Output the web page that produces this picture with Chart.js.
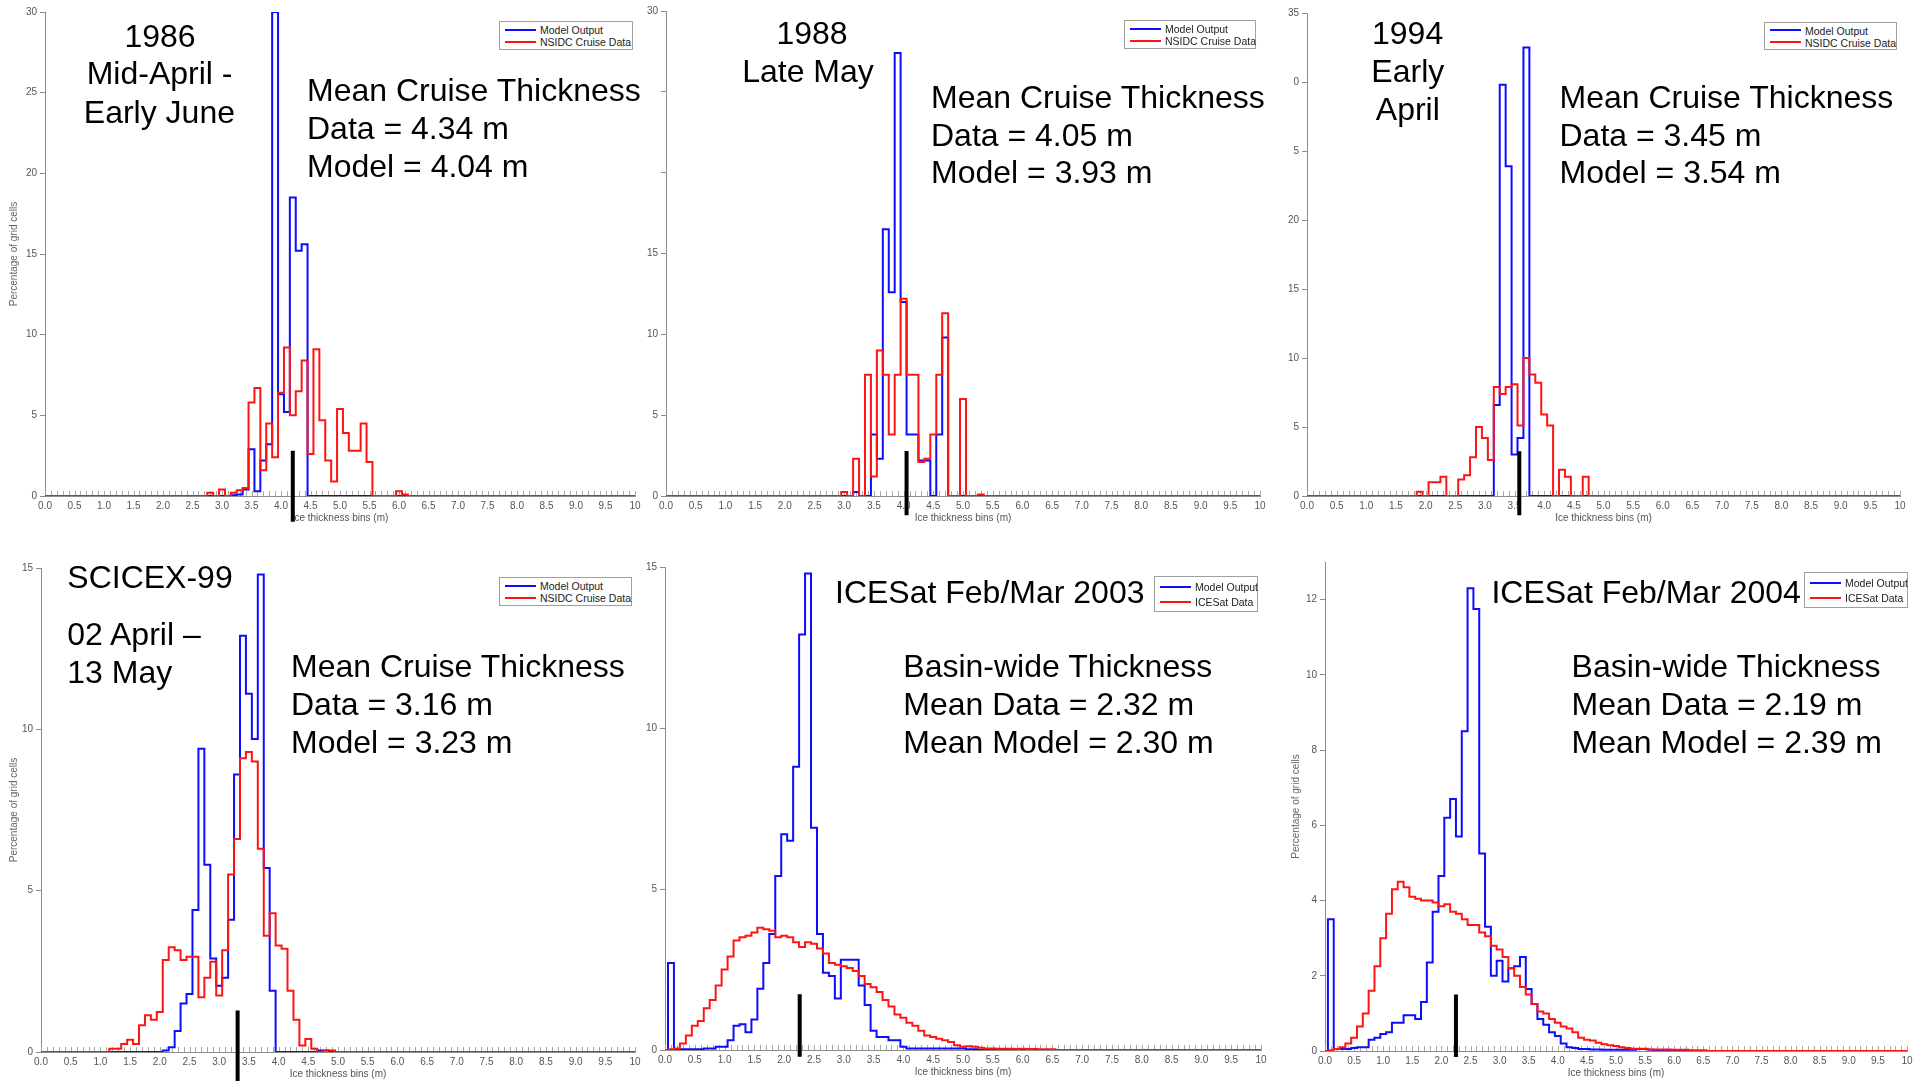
<!DOCTYPE html>
<html>
<head>
<meta charset="utf-8">
<title>Ice thickness histograms</title>
<script src="https://cdn.jsdelivr.net/npm/chart.js@4.4.1/dist/chart.umd.min.js"></script>
<style>
  html, body { margin: 0; padding: 0; background: #fff; }
  body { width: 1915px; height: 1081px; position: relative; overflow: hidden;
         font-family: "Liberation Sans", Arial, sans-serif; }
  .panel { position: absolute; }
  .note { position: absolute; font-size: 32px; line-height: 32px; color: #000; white-space: nowrap; }
  .legend { position: absolute; border: 1px solid #a0a0a0; background: #fff; box-sizing: border-box; }
  .swatch { position: absolute; height: 2px; }
  .ltext { position: absolute; font-size: 10.5px; line-height: 12px; color: #222; white-space: nowrap; }
</style>
</head>
<body>
<script>
// --- dados (percentagem de celulas por classe de 0.1 m) ---
const xTickLabels = ['0.0','0.5','1.0','1.5','2.0','2.5','3.0','3.5','4.0','4.5','5.0',
                     '5.5','6.0','6.5','7.0','7.5','8.0','8.5','9.0','9.5','10'];

// 1986
const model1986Start = 3.2;
const model1986 = [0.05, 0.1, 0.4, 2.9, 0.3, 2.2, 3.2, 30, 6.3, 5.2, 18.5, 15.2, 15.6];
const nsidc1986Start = 2.8;
const nsidc1986 = [0.2, 0, 0.4, 0, 0.2, 0.35, 0.5, 5.8, 6.7, 1.6, 4.5, 2.4, 6.4, 9.2, 5.0, 6.5, 8.4,
                   2.6, 9.1, 4.7, 2.2, 0.9, 5.4, 3.9, 2.8, 2.8, 4.5, 2.1, 0, 0, 0, 0, 0.3, 0.1];
const yTicks1986 = ['0', '5', '10', '15', '20', '25', '30'];

// 1988
const model1988Start = 3.2;
const model1988 = [0.25, 0, 0, 3.8, 2.3, 16.5, 12.6, 27.4, 12.0, 3.8, 3.8, 2.2, 2.2, 0, 3.8, 9.8];
const nsidc1988Start = 3.0;
const nsidc1988 = [0.25, 0, 2.3, 0, 7.5, 1.2, 9.0, 7.5, 3.8, 7.5, 12.2, 7.5, 7.5, 2.1, 2.3, 3.8,
                   7.5, 11.3, 0, 0, 6.0, 0, 0, 0.1];
const yTicks1988 = ['0', '5', '10', '15', '', '', '30'];

// 1994
const model1994Start = 3.2;
const model1994 = [6.6, 29.8, 23.9, 3.0, 4.2, 32.5];
const nsidc1994Start = 1.9;
const nsidc1994 = [0.3, 0, 1.0, 1.0, 1.4, 0, 0, 1.2, 1.5, 2.8, 5.0, 4.2, 2.6, 7.9, 7.4, 7.9, 8.1,
                   5.1, 10.0, 8.8, 8.2, 5.9, 5.1, 0, 1.9, 1.4, 0, 0, 1.4];
const yTicks1994 = ['0', '5', '10', '15', '20', '5', '0', '35'];

// SCICEX-99
const model1999Start = 2.1;
const model1999 = [0.05, 0.15, 0.65, 1.5, 1.8, 4.4, 9.4, 5.8, 2.9, 2.05, 2.3, 4.1, 8.6, 12.9, 11.1,
                   9.7, 14.8, 5.7, 1.9, 0, 0, 0, 0, 0, 0, 0, 0.05, 0.05];
const nsidc1999Start = 1.2;
const nsidc1999 = [0.1, 0.1, 0.25, 0.38, 0.25, 0.83, 1.14, 1.0, 1.24,
                   2.85, 3.25, 3.15, 2.85, 2.95, 2.95, 1.7, 2.3, 2.8, 1.75,
                   3.15, 5.5, 6.6, 9.1, 9.3, 9.0, 6.3, 3.6, 4.3, 3.3,
                   3.2, 1.9, 1.0, 0.2, 0.4, 0.1, 0, 0.05, 0.05];
const yTicks1999 = ['0', '5', '10', '15'];

// ICESat 2003
const model2003Start = 0.1;
const model2003 = [2.7, 0.02, 0.02, 0.02, 0.02, 0.02, 0.05, 0.05, 0.1, 0.1,
                   0.3, 0.75, 0.8, 0.55, 0.95, 1.9, 2.7, 3.6, 5.4, 6.7,
                   6.5, 8.8, 12.9, 14.8, 6.9, 3.6, 2.4, 2.3, 1.6, 2.8,
                   2.8, 2.8, 2.0, 1.4, 0.6, 0.4, 0.4, 0.3, 0.3, 0.1,
                   0.05, 0.05, 0.05, 0.05, 0.05, 0.05, 0.05, 0.05, 0.05, 0.05, 0.02, 0.02];
const icesat2003Start = 0.1;
const icesat2003 = [0.02, 0.05, 0.2, 0.45, 0.75, 0.9, 1.3, 1.55, 2.0, 2.5,
                    2.9, 3.4, 3.5, 3.55, 3.65, 3.8, 3.75, 3.7, 3.5, 3.55,
                    3.5, 3.35, 3.2, 3.35, 3.3, 3.15, 3.0, 2.7, 2.65, 2.6,
                    2.55, 2.45, 2.3, 2.05, 1.95, 1.8, 1.55, 1.35, 1.1, 1.0,
                    0.85, 0.75, 0.6, 0.45, 0.4, 0.35, 0.3, 0.25, 0.15, 0.1,
                    0.12, 0.1, 0.07, 0.05, 0.05, 0.04, 0.04, 0.04, 0.03, 0.04,
                    0.03, 0.03, 0.02, 0.02, 0.02];
const yTicks2003 = ['0', '5', '10', '15'];

// ICESat 2004
const model2004Start = 0.1;
const model2004 = [3.5, 0.05, 0.05, 0.05, 0.08, 0.1, 0.1, 0.3, 0.35, 0.45,
                   0.5, 0.75, 0.75, 0.95, 0.95, 0.85, 1.3, 2.35, 3.7, 4.65,
                   6.2, 6.7, 5.7, 8.5, 12.3, 11.75, 5.25, 3.3, 2.0, 2.4,
                   1.85, 2.2, 2.25, 2.5, 1.65, 1.25, 0.85, 0.7, 0.5, 0.4,
                   0.2, 0.1, 0.08, 0.05, 0.05, 0.04, 0.04, 0.03, 0.03, 0.03,
                   0.03, 0.03, 0.03, 0.05, 0.05, 0.03];
const icesat2004Start = 0.1;
const icesat2004 = [0.02, 0.05, 0.1, 0.2, 0.35, 0.65, 1.0, 1.6, 2.25, 3.0,
                    3.65, 4.3, 4.5, 4.35, 4.1, 4.05, 4.0, 4.0, 3.95, 3.85,
                    3.9, 3.7, 3.65, 3.5, 3.35, 3.35, 3.15, 3.05, 2.8, 2.7,
                    2.5, 2.2, 2.0, 1.7, 1.5, 1.25, 1.05, 1.0, 0.85, 0.75,
                    0.65, 0.6, 0.5, 0.35, 0.3, 0.28, 0.22, 0.18, 0.15, 0.13,
                    0.1, 0.08, 0.06, 0.06, 0.06, 0.04, 0.04, 0.04, 0.04, 0.03,
                    0.03, 0.03, 0.02, 0.02, 0.02];
const yTicks2004 = ['0', '2', '4', '6', '8', '10', '12'];

// traco preto da media (x em m, topo e base em %)
const meanMarkX = [4.2, 4.05, 3.58, 3.31, 2.26, 2.25];
const meanMarkTop = [2.8, 2.78, 3.25, 1.29, 1.73, 1.5];
const meanMarkBottom = [-1.6, -1.19, -1.39, -0.9, -0.21, -0.16];

const legendCruise = ['Model Output', 'NSIDC Cruise Data'];
const legendIcesat = ['Model Output', 'ICESat Data'];

// --- layout (pixels da pagina) ---
const panels = [
  { model: model1986, modelStart: model1986Start, obs: nsidc1986, obsStart: nsidc1986Start,
    names: legendCruise, yMax: 30, yStep: 5, yLabels: yTicks1986,
    area: [45, 12, 635, 496], yTitleX: 14, legendBox: [499, 21, 633, 50] },
  { model: model1988, modelStart: model1988Start, obs: nsidc1988, obsStart: nsidc1988Start,
    names: legendCruise, yMax: 30, yStep: 5, yLabels: yTicks1988,
    area: [666, 11, 1260, 496], yTitleX: null, legendBox: [1124, 20, 1256, 49] },
  { model: model1994, modelStart: model1994Start, obs: nsidc1994, obsStart: nsidc1994Start,
    names: legendCruise, yMax: 35, yStep: 5, yLabels: yTicks1994,
    area: [1307, 13, 1900, 496], yTitleX: null, legendBox: [1764, 22, 1897, 50] },
  { model: model1999, modelStart: model1999Start, obs: nsidc1999, obsStart: nsidc1999Start,
    names: legendCruise, yMax: 15, yStep: 5, yLabels: yTicks1999,
    area: [41, 568, 635, 1052], yTitleX: 14, legendBox: [499, 577, 632, 606] },
  { model: model2003, modelStart: model2003Start, obs: icesat2003, obsStart: icesat2003Start,
    names: legendIcesat, yMax: 15, yStep: 5, yLabels: yTicks2003,
    area: [665, 567, 1261, 1050], yTitleX: null, legendBox: [1154, 576, 1258, 612] },
  { model: model2004, modelStart: model2004Start, obs: icesat2004, obsStart: icesat2004Start,
    names: legendIcesat, yMax: 13, yStep: 2, yLabels: yTicks2004,
    area: [1325, 562, 1907, 1051], yTitleX: 1296, legendBox: [1804, 572, 1908, 608] }
];

const notes = [
  [160, 47.3, '1986', 'c'], [159.6, 84.5, 'Mid-April -', 'c'], [159.4, 123.3, 'Early June', 'c'],
  [307, 101.4, 'Mean Cruise Thickness'], [307, 139.2, 'Data = 4.34 m'], [307, 177.4, 'Model = 4.04 m'],
  [812, 43.9, '1988', 'c'], [808, 82.1, 'Late May', 'c'],
  [931, 108.1, 'Mean Cruise Thickness'], [931, 145.9, 'Data = 4.05 m'], [931, 183.4, 'Model = 3.93 m'],
  [1407.6, 43.9, '1994', 'c'], [1407.8, 82.1, 'Early', 'c'], [1407.8, 119.9, 'April', 'c'],
  [1559.5, 108.1, 'Mean Cruise Thickness'], [1559.5, 145.9, 'Data = 3.45 m'], [1559.5, 183.4, 'Model = 3.54 m'],
  [67.3, 587.8, 'SCICEX-99'], [67.3, 644.6, '02 April \u2013'], [67.3, 683.4, '13 May'],
  [291, 676.7, 'Mean Cruise Thickness'], [291, 715.5, 'Data = 3.16 m'], [291, 752.7, 'Model = 3.23 m'],
  [835, 603.4, 'ICESat Feb/Mar 2003'],
  [903.3, 676.7, 'Basin-wide Thickness'], [903.3, 715.5, 'Mean Data = 2.32 m'], [903.3, 752.7, 'Mean Model = 2.30 m'],
  [1491.4, 603.4, 'ICESat Feb/Mar 2004'],
  [1571.6, 676.7, 'Basin-wide Thickness'], [1571.6, 715.5, 'Mean Data = 2.19 m'], [1571.6, 752.7, 'Mean Model = 2.39 m']
];

const BLUE = '#0c0cff', RED = '#ff1414', AXIS = '#8c8c8c';
Chart.defaults.font.family = '"Liberation Sans", Arial, sans-serif';

// histograma completo 0..10 m em classes de 0.1 m
function toPoints(start, vals) {
  const first = Math.round(start * 10);
  const pts = [];
  for (let k = 0; k <= 100; k++) {
    const j = k - first;
    pts.push({ x: k / 10, y: (j >= 0 && j < vals.length) ? vals[j] : 0 });
  }
  return pts;
}

// tracinhos cinza a cada 0.1 m sobre o eixo x
const minorTicks = {
  id: 'minorTicks',
  beforeDatasetsDraw(chart) {
    const { ctx, scales: { x, y } } = chart;
    const y0 = Math.round(y.getPixelForValue(0));
    ctx.save();
    ctx.strokeStyle = '#a8a8a8';
    ctx.lineWidth = 1;
    ctx.beginPath();
    for (let k = 0; k <= 100; k++) {
      const px = Math.round(x.getPixelForValue(k / 10)) + 0.5;
      ctx.moveTo(px, y0);
      ctx.lineTo(px, y0 - 5);
    }
    ctx.stroke();
    ctx.restore();
  }
};

function makePanel(p, i) {
  const yw = 44, pt = 10, pr = 12, xh = 34;
  const [L, T, R, B] = p.area;
  const W = R - L + yw + pr, H = B - T + pt + xh;
  const box = document.createElement('div');
  box.className = 'panel';
  box.style.left = (L - yw) + 'px';
  box.style.top = (T - pt) + 'px';
  box.style.width = W + 'px';
  box.style.height = H + 'px';
  const cv = document.createElement('canvas');
  cv.width = W; cv.height = H;
  cv.style.width = W + 'px'; cv.style.height = H + 'px';
  box.appendChild(cv);
  document.body.appendChild(box);

  const yTitlePad = p.yTitleX === null ? 0 : p.yTitleX - (L - yw) - 6;

  new Chart(cv, {
    type: 'line',
    data: {
      datasets: [
        { label: p.names[0], data: toPoints(p.modelStart, p.model), borderColor: BLUE,
          borderWidth: 2, stepped: 'middle', pointRadius: 0, order: 1 },
        { label: p.names[1], data: toPoints(p.obsStart, p.obs), borderColor: RED,
          borderWidth: 2, stepped: 'middle', pointRadius: 0, order: 0 },
        { label: 'mean', data: [{ x: meanMarkX[i], y: meanMarkTop[i] }, { x: meanMarkX[i], y: meanMarkBottom[i] }],
          borderColor: '#000', borderWidth: 4, borderCapStyle: 'butt', pointRadius: 0, clip: false, order: -1 }
      ]
    },
    options: {
      responsive: false,
      animation: false,
      events: [],
      layout: { padding: { top: pt, right: pr, left: 0, bottom: 0 } },
      plugins: { legend: { display: false }, tooltip: { enabled: false } },
      scales: {
        x: {
          type: 'linear', min: 0, max: 10,
          grid: { display: true, drawOnChartArea: false, drawTicks: false },
          border: { display: true, color: AXIS, width: 1 },
          ticks: { stepSize: 0.5, autoSkip: false, maxRotation: 0, padding: 4, color: '#555',
                   font: { size: 10 }, callback: v => xTickLabels[Math.round(v * 2)] },
          title: { display: true, text: 'Ice thickness bins (m)', color: '#555', font: { size: 10 },
                   padding: { top: 0, bottom: 6 } },
          afterFit(s) { s.height = xh; s.paddingLeft = 0; s.paddingRight = 0; }
        },
        y: {
          min: 0, max: p.yMax,
          grid: { display: true, drawOnChartArea: false, drawTicks: true, tickLength: 5, color: AXIS },
          border: { display: true, color: AXIS, width: 1 },
          ticks: { stepSize: p.yStep, includeBounds: false, autoSkip: false, padding: 3, color: '#555',
                   font: { size: 10 }, callback: v => p.yLabels[Math.round(v / p.yStep)] ?? '' },
          title: { display: p.yTitleX !== null, text: 'Percentage of grid cells', color: '#666',
                   font: { size: 10 }, padding: { top: yTitlePad, bottom: 0 } },
          afterFit(s) { s.width = yw; s.paddingTop = 0; s.paddingBottom = 0; }
        }
      }
    },
    plugins: [minorTicks]
  });

  // legenda no canto superior direito
  const [x1, y1, x2, y2] = p.legendBox;
  const lg = document.createElement('div');
  lg.className = 'legend';
  lg.style.left = x1 + 'px'; lg.style.top = y1 + 'px';
  lg.style.width = (x2 - x1) + 'px'; lg.style.height = (y2 - y1) + 'px';
  document.body.appendChild(lg);
  const h = y2 - y1;
  [BLUE, RED].forEach((c, k) => {
    const ry = y1 + h * (k === 0 ? 0.3 : 0.73);
    const sw = document.createElement('div');
    sw.className = 'swatch';
    sw.style.background = c;
    sw.style.left = (x1 + 6) + 'px'; sw.style.width = '31px';
    sw.style.top = (ry - 1) + 'px';
    document.body.appendChild(sw);
    const t = document.createElement('div');
    t.className = 'ltext';
    t.textContent = p.names[k];
    t.style.left = (x1 + 41) + 'px';
    t.style.top = (ry - 5.8) + 'px';
    document.body.appendChild(t);
  });
}

panels.forEach(makePanel);

// textos grandes
notes.forEach(([x, base, txt, align]) => {
  const d = document.createElement('div');
  d.className = 'note';
  d.textContent = txt;
  d.style.top = (base - 27.1) + 'px';
  d.style.left = x + 'px';
  if (align === 'c') d.style.transform = 'translateX(-50%)';
  document.body.appendChild(d);
});
</script>
</body>
</html>
